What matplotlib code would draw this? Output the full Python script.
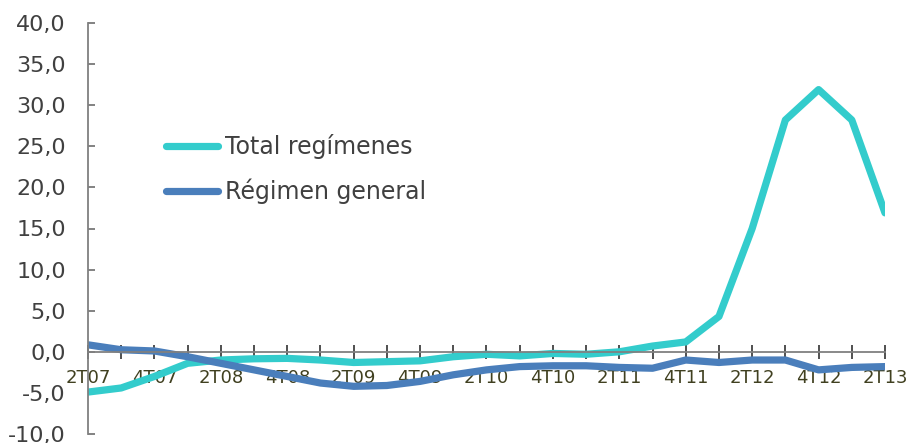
import matplotlib
matplotlib.use('Agg')
import matplotlib.pyplot as plt
from matplotlib.ticker import FuncFormatter

quarters = ['2T07', '3T07', '4T07', '1T08', '2T08', '3T08', '4T08', '1T09',
            '2T09', '3T09', '4T09', '1T10', '2T10', '3T10', '4T10', '1T11',
            '2T11', '3T11', '4T11', '1T12', '2T12', '3T12', '4T12', '1T13', '2T13']
total_regimenes = [-4.9, -4.4, -3.0, -1.4, -1.0, -0.85, -0.8, -1.0, -1.3, -1.2,
                   -1.1, -0.6, -0.3, -0.5, -0.2, -0.3, 0.0, 0.7, 1.2, 4.3,
                   15.0, 28.2, 31.9, 28.2, 16.9]
regimen_general = [0.85, 0.25, 0.1, -0.6, -1.4, -2.2, -3.0, -3.8, -4.2, -4.1,
                   -3.6, -2.8, -2.2, -1.8, -1.7, -1.7, -1.9, -2.0, -1.0, -1.3,
                   -1.0, -1.0, -2.2, -1.9, -1.8]

fig = plt.figure(figsize=(9.09, 4.43), dpi=100)
ax = fig.add_axes([88 / 909, 9 / 443, 797 / 909, 411 / 443])

x = range(len(quarters))
ax.plot(x, total_regimenes, color='#33CCCC', lw=5.2, solid_capstyle='round',
        solid_joinstyle='round', label='Total regímenes')
ax.plot(x, regimen_general, color='#4A7EBB', lw=5.2, solid_capstyle='round',
        solid_joinstyle='round', label='Régimen general')

ax.set_xlim(0, len(quarters) - 1)
ax.set_ylim(-10, 40)
ax.set_yticks(range(-10, 41, 5))
ax.yaxis.set_major_formatter(FuncFormatter(lambda v, p: f'{v:.1f}'.replace('.', ',')))

ax.set_xticks(list(x))
ax.set_xticklabels([q if i % 2 == 0 else '' for i, q in enumerate(quarters)])

for s in ['top', 'right']:
    ax.spines[s].set_visible(False)
ax.spines['left'].set_color('#808080')
ax.spines['left'].set_linewidth(1.3)
ax.spines['bottom'].set_position(('data', 0))
ax.spines['bottom'].set_color('#808080')
ax.spines['bottom'].set_linewidth(1.3)

ax.tick_params(axis='y', direction='in', length=5, width=1.1, color='#606060',
               labelsize=16, labelcolor='#404040', pad=16)
ax.tick_params(axis='x', direction='inout', length=10, width=1.1, color='#202020',
               labelsize=13, labelcolor='#404020', pad=7.5)

ax.legend(loc='upper left', bbox_to_anchor=(0.0712, 0.782), frameon=False,
          fontsize=17, handlelength=2.2, handletextpad=0.32, labelspacing=0.83,
          labelcolor='#404040')

fig.savefig('out.png', dpi=100)
